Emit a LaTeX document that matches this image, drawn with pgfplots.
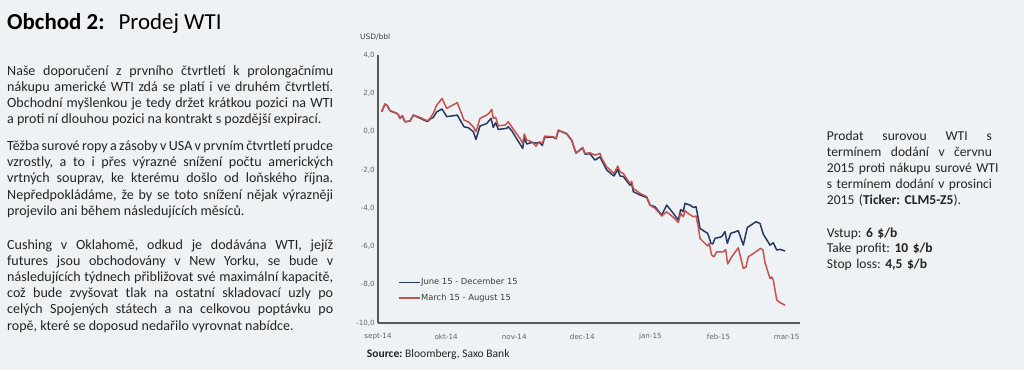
\documentclass[border=0pt]{standalone}
\usepackage{fontspec}
\setmainfont{Carlito}
\newfontfamily\dejavu{DejaVu Sans}
\usepackage{pgfplots}
\pgfplotsset{compat=1.18}
\definecolor{bg}{RGB}{239,242,244}
\definecolor{txt}{RGB}{35,35,35}
\definecolor{axisgray}{RGB}{90,90,90}
\definecolor{legtext}{RGB}{60,60,60}
\definecolor{tickgray}{RGB}{100,100,100}
\definecolor{navy}{RGB}{36,56,96}
\definecolor{wtired}{RGB}{196,82,78}
\frenchspacing
\tolerance=10000
\hbadness=10000
\newcommand\jl[1]{\leavevmode\hbox to 165bp{#1}}
\begin{document}
\begin{tikzpicture}[x=1bp,y=1bp]
\fill[bg] (0,0) rectangle (1024,370);
\useasboundingbox (0,0) rectangle (1024,370);
% title
\node[anchor=base west, inner sep=0pt, font=\fontsize{23}{25}\selectfont] at (7,340.7) {\textbf{Obchod 2:}\hspace{14bp}Prodej WTI};
% left paragraphs
\node[anchor=base west, inner sep=0pt, text width=326bp, align=justify, text=txt, font=\fontsize{14.1}{16.3}\selectfont] at (7,295) {Naše doporučení z prvního čtvrtletí k prolongačnímu\linebreak nákupu americké WTI zdá se platí i ve druhém čtvrtletí.\linebreak Obchodní myšlenkou je tedy držet krátkou pozici na WTI\linebreak a proti ní dlouhou pozici na kontrakt s pozdější expirací.};
\node[anchor=base west, inner sep=0pt, text width=326bp, align=justify, text=txt, font=\fontsize{14.1}{16.3}\selectfont] at (7,219.5) {Těžba surové ropy a zásoby v USA v prvním čtvrtletí prudce\linebreak vzrostly, a to i přes výrazné snížení počtu amerických\linebreak vrtných souprav, ke kterému došlo od loňského října.\linebreak Nepředpokládáme, že by se toto snížení nějak výrazněji\linebreak projevilo ani během následujících měsíců.};
\node[anchor=base west, inner sep=0pt, text width=326bp, align=justify, text=txt, font=\fontsize{14.1}{16.3}\selectfont] at (7,121) {Cushing v Oklahomě, odkud je dodávána WTI, jejíž\linebreak futures jsou obchodovány v New Yorku, se bude v\linebreak následujících týdnech přibližovat své maximální kapacitě,\linebreak což bude zvyšovat tlak na ostatní skladovací uzly po\linebreak celých Spojených státech a na celkovou poptávku po\linebreak ropě, které se doposud nedařilo vyrovnat nabídce.};
% right text
\node[anchor=base west, inner sep=0pt, text width=165bp, align=left, text=txt, font=\fontsize{13.6}{16.3}\selectfont] at (826.7,230) {\jl{Prodat \hfill surovou \hfill WTI \hfill s}\\\jl{termínem \hfill dodání \hfill v \hfill červnu}\\\jl{2015 \hfill proti \hfill nákupu \hfill surové \hfill WTI}\\\jl{s \hfill termínem \hfill dodání \hfill v \hfill prosinci}\\2015 (\textbf{Ticker: CLM5-Z5}).};
\node[anchor=base west, inner sep=0pt, text width=165bp, align=left, text=txt, font=\fontsize{13.6}{16}\selectfont] at (826.7,133) {Vstup: \textbf{6 \$/b}\\Take profit: \textbf{10 \$/b}\\Stop loss: \textbf{4,5 \$/b}};
% chart labels
\node[anchor=west, inner sep=0pt, text=legtext, font=\dejavu\fontsize{7.5}{8}\selectfont] at (360,333.3) {USD/bbl};
\node[anchor=base west, inner sep=0pt, text=txt, font=\fontsize{11.6}{13}\selectfont] at (366.7,12.2) {\textbf{Source:} Bloomberg, Saxo Bank};
\begin{axis}[
  at={(378bp,47bp)}, anchor=south west,
  scale only axis, width=422bp, height=268bp,
  xmin=0, xmax=6.197, ymin=-10, ymax=4,
  axis x line*=bottom, axis y line*=left,
  axis line style={draw=axisgray, line width=1.1bp, -},
  xtick={0,1,2,3,4,5,6},
  xticklabels={sept-14,okt-14,nov-14,dec-14,jan-15,feb-15,mar-15},
  ytick={-10,-8,-6,-4,-2,0,2,4},
  yticklabels={{-10,0},{-8,0},{-6,0},{-4,0},{-2,0},{0,0},{2,0},{4,0}},
  major tick length=0pt,
  tick label style={font=\dejavu\fontsize{7.2}{8}\selectfont, text=tickgray, inner sep=0pt},
  xticklabel style={anchor=center, yshift=-13.7bp},
  yticklabel style={anchor=east, xshift=-3bp},
  legend style={at={(0.0467,0.1644)}, anchor=north west, draw=none, fill=none, inner sep=0pt, row sep=8.5bp, column sep=0pt,
    font=\dejavu\fontsize{8.4}{9}\selectfont, text=legtext,
    nodes={inner sep=0pt, text height=5.5bp, text depth=1.5bp}},
  legend cell align=left,
  legend image code/.code={\draw[#1, line width=1.6bp] (0bp,0bp) -- (21.6bp,0bp);},
  clip=false,
]
\addplot[navy, line width=1.5bp, line join=round] coordinates {
(0.054,1.03)(0.103,1.44)(0.137,1.35)(0.176,1.09)(0.275,0.95)(0.298,0.88)(0.323,0.69)(0.357,0.83)(0.396,0.51)(0.470,0.55)(0.518,0.86)(0.617,0.70)(0.724,0.52)(0.764,0.65)(0.812,0.74)(0.862,1.03)(0.940,1.18)(1.009,0.78)(1.164,0.86)(1.263,0.25)(1.326,0.20)(1.399,0.00)(1.439,-0.41)(1.498,0.29)(1.596,0.42)(1.659,0.69)(1.693,0.22)(1.728,0.46)(1.767,0.11)(1.890,0.17)(1.913,0.25)(1.963,0.05)(2.125,-0.88)(2.148,-0.31)(2.184,-0.65)(2.257,-0.57)(2.320,-0.60)(2.369,-0.57)(2.413,-0.72)(2.448,-0.30)(2.574,-0.29)(2.614,-0.38)(2.648,0.06)(2.771,-0.12)(2.844,-0.46)(2.907,-1.13)(3.006,-0.85)(3.040,-1.18)(3.113,-1.16)(3.186,-1.49)(3.260,-1.32)(3.285,-1.50)(3.358,-2.01)(3.465,-2.32)(3.520,-1.97)(3.554,-2.32)(3.602,-2.35)(3.700,-2.80)(3.725,-2.72)(3.749,-3.14)(3.847,-3.31)(3.946,-3.45)(3.994,-3.84)(4.068,-3.93)(4.166,-4.36)(4.239,-3.84)(4.336,-4.27)(4.410,-4.62)(4.445,-4.07)(4.483,-4.18)(4.508,-3.75)(4.581,-3.84)(4.630,-3.96)(4.670,-3.93)(4.703,-4.54)(4.728,-5.06)(4.802,-5.23)(4.841,-5.32)(4.890,-5.84)(4.915,-5.87)(4.949,-5.58)(5.047,-5.49)(5.095,-5.23)(5.129,-5.84)(5.179,-5.32)(5.291,-5.18)(5.364,-5.93)(5.423,-5.01)(5.551,-4.71)(5.609,-4.80)(5.658,-5.36)(5.756,-5.93)(5.805,-5.81)(5.855,-6.19)(5.903,-6.15)(5.976,-6.24)
};
\addlegendentry{June 15 - December 15}
\addplot[wtired, line width=1.5bp, line join=round] coordinates {
(0.054,1.03)(0.103,1.44)(0.137,1.35)(0.176,1.09)(0.275,0.95)(0.298,0.88)(0.323,0.69)(0.357,0.83)(0.396,0.51)(0.470,0.55)(0.518,0.86)(0.617,0.74)(0.724,0.56)(0.764,0.69)(0.812,0.95)(0.862,1.38)(0.940,1.73)(1.009,1.21)(1.164,1.51)(1.263,0.60)(1.326,0.51)(1.399,0.25)(1.439,0.00)(1.498,0.69)(1.596,0.86)(1.634,0.97)(1.670,1.16)(1.693,0.69)(1.728,0.74)(1.767,0.30)(1.865,0.34)(1.913,0.51)(1.963,0.25)(2.085,-0.36)(2.125,-0.62)(2.148,-0.13)(2.184,-0.44)(2.257,-0.53)(2.320,-0.76)(2.369,-0.53)(2.413,-0.62)(2.448,-0.24)(2.574,-0.27)(2.614,-0.36)(2.648,0.08)(2.771,-0.10)(2.844,-0.44)(2.907,-1.11)(3.006,-0.83)(3.040,-1.14)(3.113,-1.11)(3.186,-1.23)(3.260,-1.14)(3.285,-1.40)(3.358,-1.84)(3.465,-2.19)(3.520,-1.80)(3.554,-2.10)(3.602,-2.19)(3.700,-2.71)(3.725,-2.60)(3.749,-2.97)(3.847,-3.23)(3.946,-3.40)(3.994,-3.84)(4.068,-4.01)(4.166,-4.41)(4.239,-4.19)(4.336,-4.48)(4.410,-4.74)(4.445,-4.27)(4.483,-4.45)(4.508,-4.14)(4.581,-4.34)(4.630,-4.45)(4.670,-4.41)(4.703,-4.97)(4.728,-5.58)(4.802,-5.84)(4.841,-5.98)(4.864,-5.84)(4.899,-6.45)(4.934,-6.54)(4.973,-6.28)(5.070,-6.28)(5.105,-6.16)(5.135,-6.92)(5.194,-6.54)(5.291,-6.07)(5.364,-7.15)(5.404,-7.07)(5.438,-6.54)(5.511,-6.37)(5.620,-6.10)(5.653,-6.19)(5.683,-6.85)(5.756,-7.67)(5.781,-7.60)(5.805,-7.76)(5.855,-8.80)(5.903,-8.93)(5.976,-9.07)
};
\addlegendentry{March 15 - August 15}
\end{axis}
\end{tikzpicture}
\end{document}
